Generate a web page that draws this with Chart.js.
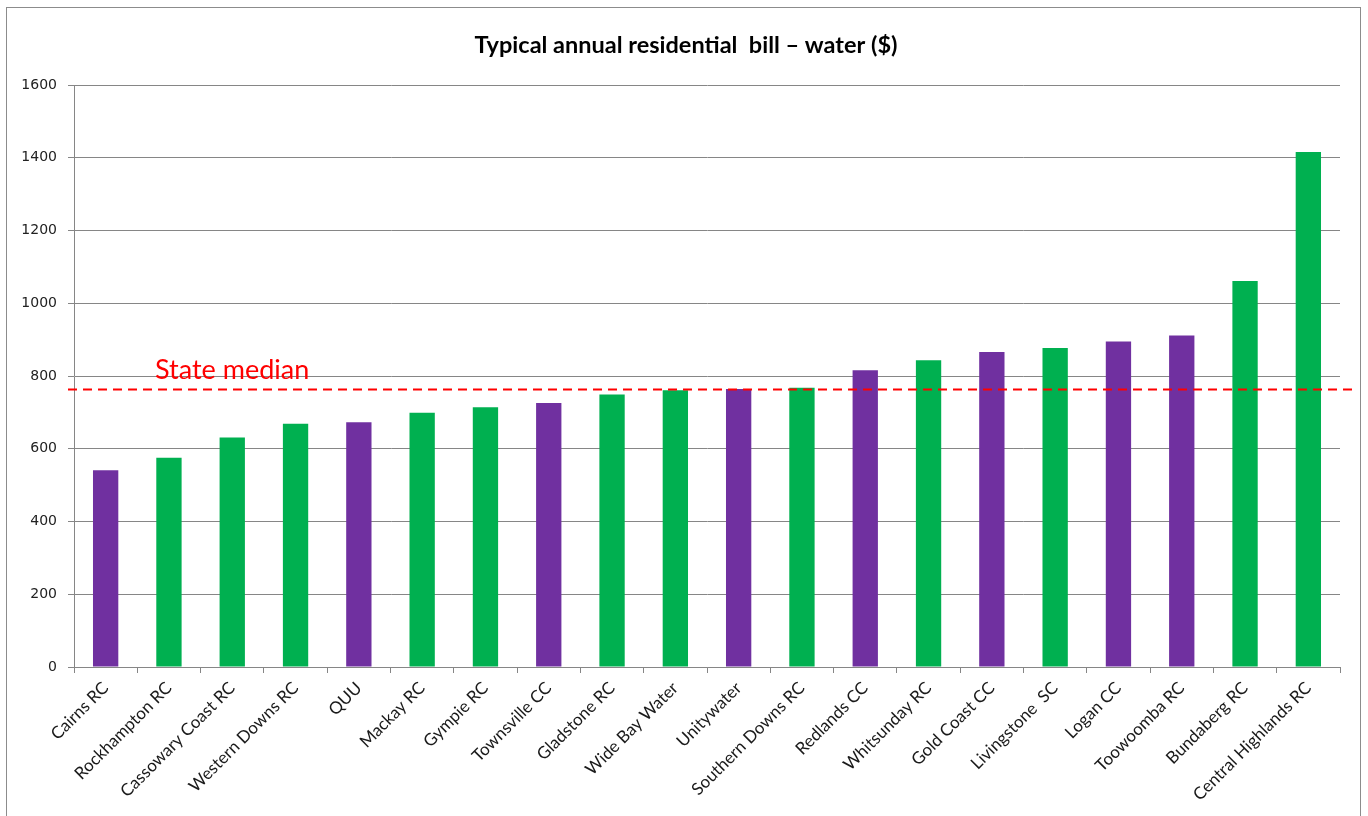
<!DOCTYPE html>
<html>
<head>
<meta charset="utf-8">
<script src="https://cdn.jsdelivr.net/npm/chart.js@4"></script>
<style>
    html, body { margin: 0; padding: 0; background: #fff; }
    #wrap { position: relative; width: 1368px; height: 816px; overflow: hidden; }
    #frame { position: absolute; left: 6px; top: 7px; width: 1355px; height: 840px; border: 1px solid #8c8c8c; box-sizing: border-box; }
    canvas { position: absolute; left: 0; top: 0; }
</style>
</head>
<body>
<div id="wrap">
    <div id="frame"></div>
    <canvas id="chart" width="1368" height="816"></canvas>
</div>
<script>
// Councils, sorted by bill
const categories = [
    'Cairns RC', 'Rockhampton RC', 'Cassowary Coast RC', 'Western Downs RC', 'QUU',
    'Mackay RC', 'Gympie RC', 'Townsville CC', 'Gladstone RC', 'Wide Bay Water',
    'Unitywater', 'Southern Downs RC', 'Redlands CC', 'Whitsunday RC', 'Gold Coast CC',
    'Livingstone  SC', 'Logan CC', 'Toowoomba RC', 'Bundaberg RC', 'Central Highlands RC',
];

// Typical annual residential water bill ($)
const bills = [
    541, 575, 631, 669, 673,
    699, 714, 726, 749, 761,
    764, 768, 816, 843, 866,
    877, 895, 911, 1061, 1416,
];

// 'P' = purple, 'G' = green
const groups = [
    'P', 'G', 'G', 'G', 'P',
    'G', 'G', 'P', 'G', 'G',
    'P', 'G', 'P', 'G', 'P',
    'G', 'P', 'P', 'G', 'G',
];

const yTicks = [0, 200, 400, 600, 800, 1000, 1200, 1400, 1600];
const stateMedian = 763;
const titleText = 'Typical annual residential  bill \u2013 water ($)';

const GROUP_COLORS = { P: '#7030A0', G: '#00B050' };
const GRID = '#868686';

// title centred on the whole canvas (the built-in one centres on the padded box)
const titlePlugin = {
    id: 'pageTitle',
    afterDraw(chart) {
        const { ctx, width } = chart;
        ctx.save();
        ctx.fillStyle = '#000';
        ctx.font = 'bold 23.5px Lato';
        ctx.textAlign = 'center';
        ctx.textBaseline = 'middle';
        ctx.fillText(titleText, width / 2 + 2, 45);
        ctx.restore();
    },
};

// dashed red median line plus its label
const medianPlugin = {
    id: 'medianLine',
    afterDatasetsDraw(chart) {
        const { ctx, chartArea, scales } = chart;
        const y = scales.y.getPixelForValue(stateMedian);
        ctx.save();
        ctx.strokeStyle = '#FF0000';
        ctx.lineWidth = 2;
        ctx.setLineDash([9, 6]);
        ctx.beginPath();
        ctx.moveTo(chartArea.left - 6, y);
        ctx.lineTo(chartArea.right + 14, y);
        ctx.stroke();
        ctx.setLineDash([]);
        ctx.fillStyle = '#FF0000';
        ctx.font = '27px Lato';
        ctx.textBaseline = 'alphabetic';
        ctx.fillText('State median', chartArea.left + 81, y - 10);
        ctx.restore();
    },
};

new Chart(document.getElementById('chart'), {
    type: 'bar',
    data: {
        labels: categories,
        datasets: [{
            data: bills,
            backgroundColor: groups.map((g) => GROUP_COLORS[g]),
            borderWidth: 0,
            barPercentage: 0.4,
            categoryPercentage: 1,
        }],
    },
    options: {
        responsive: false,
        animation: false,
        layout: { padding: { left: 0, right: 28, top: 85, bottom: 0 } },
        plugins: {
            legend: { display: false },
            tooltip: { enabled: false },
            title: { display: false },
        },
        scales: {
            x: {
                afterFit: (scale) => { scale.height = 149; },
                grid: {
                    offset: true,
                    drawOnChartArea: false,
                    color: GRID,
                    tickLength: 6,
                },
                border: { color: GRID, width: 1 },
                ticks: {
                    minRotation: 45,
                    maxRotation: 45,
                    autoSkip: false,
                    color: '#1a1a1a',
                    padding: 5,
                    font: { family: 'Lato', size: 17 },
                },
            },
            y: {
                min: 0,
                max: 1600,
                afterFit: (scale) => { scale.width = 74; },
                afterBuildTicks: (scale) => { scale.ticks = yTicks.map((v) => ({ value: v })); },
                grid: { color: GRID, tickLength: 6 },
                border: { color: GRID, width: 1 },
                ticks: {
                    color: '#222',
                    padding: 11,
                    font: { family: 'DejaVu Sans', size: 14 },
                    callback: (v) => String(v),
                },
            },
        },
    },
    plugins: [medianPlugin, titlePlugin],
});
</script>
</body>
</html>
